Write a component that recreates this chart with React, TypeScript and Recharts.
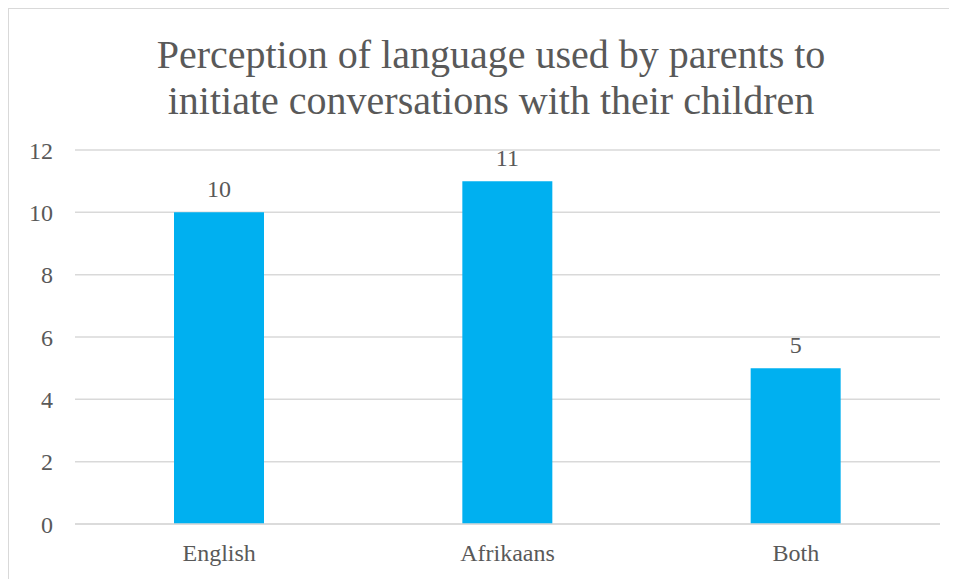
import React from 'react';
import { BarChart, Bar, XAxis, YAxis, CartesianGrid, LabelList } from 'recharts';

const languages = ['English', 'Afrikaans', 'Both'];
const parentCounts = [10, 11, 5];
const yTicks = [0, 2, 4, 6, 8, 10, 12];

const titleLines = [
    'Perception of language used by parents to',
    'initiate conversations with their children',
];

const textColor = '#595959';
const fontFamily = '"Liberation Serif", serif';

export default function App() {
    const data = languages.map((name, i) => ({ name, value: parentCounts[i] }));

    return (
        <div style={{ position: 'relative', width: 948, height: 570, borderTop: '1px solid #d9d9d9', borderLeft: '1px solid #d9d9d9', background: '#fff', fontFamily }}>
            <div style={{ position: 'absolute', left: 0, top: 23, width: 964, textAlign: 'center', color: textColor, fontSize: 40, lineHeight: '46px' }}>
                {titleLines.map(line => <div key={line}>{line}</div>)}
            </div>
            <BarChart width={948} height={570} data={data} margin={{ top: 141, right: 17, bottom: 15, left: 0 }}>
                <CartesianGrid vertical={false} stroke="#d9d9d9" strokeWidth={1.5} />
                <XAxis
                    dataKey="name"
                    height={40}
                    tickSize={0}
                    tickMargin={20}
                    axisLine={{ stroke: '#d9d9d9', strokeWidth: 1.5 }}
                    tick={{ fill: textColor, fontSize: 24, fontFamily }}
                />
                <YAxis
                    width={66}
                    domain={[0, 12]}
                    ticks={yTicks}
                    tickSize={0}
                    tickMargin={22}
                    axisLine={false}
                    tickLine={false}
                    tick={{ fill: textColor, fontSize: 24, fontFamily }}
                />
                <Bar dataKey="value" fill="#00b0f0" barSize={90} isAnimationActive={false}>
                    <LabelList dataKey="value" position="top" offset={15} fill={textColor} fontSize={24} fontFamily={fontFamily} />
                </Bar>
            </BarChart>
        </div>
    );
}
